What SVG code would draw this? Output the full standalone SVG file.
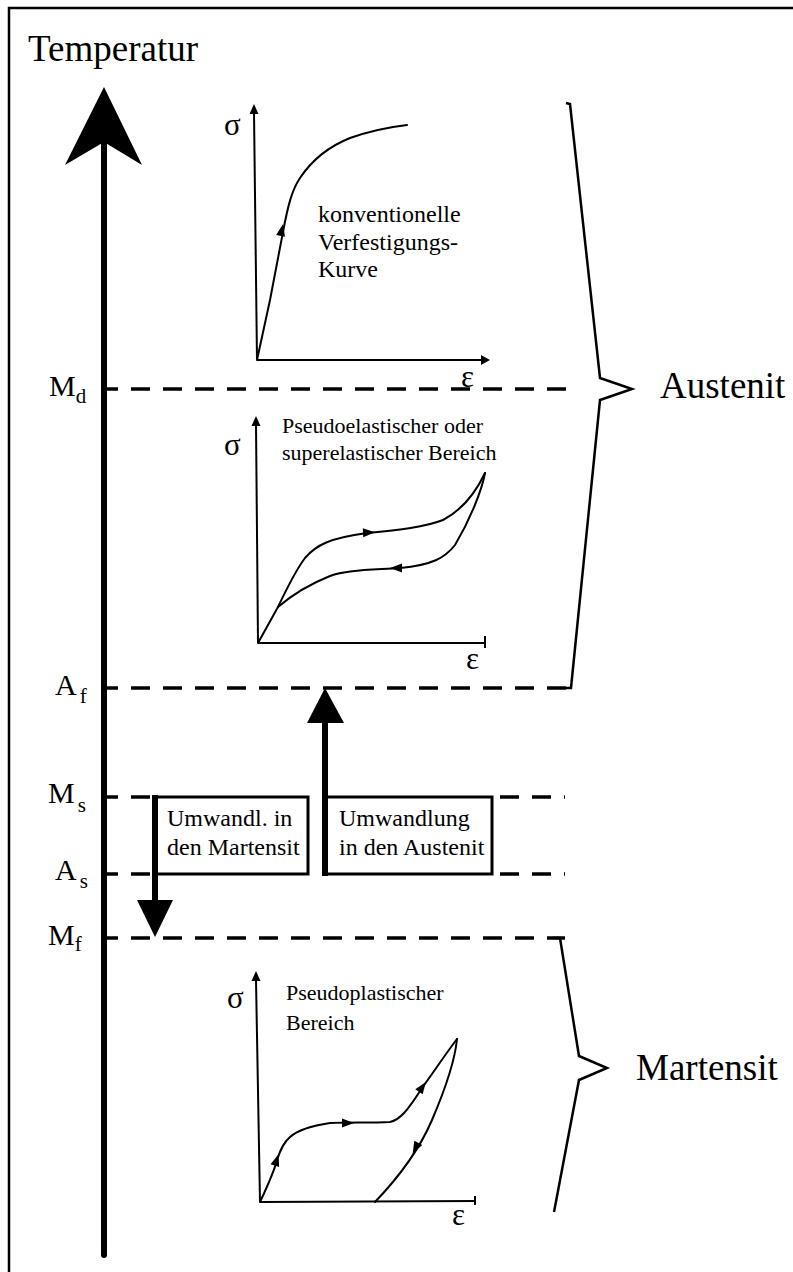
<svg xmlns="http://www.w3.org/2000/svg" xmlns:xlink="http://www.w3.org/1999/xlink" width="793" height="1272" viewBox="0 0 793 1272">
  <style>
    text { font-family: "Liberation Serif", "Times New Roman", serif; fill: #000; }
    .big { font-size: 37px; }
    .lbl { font-size: 30px; }
    .sub { font-size: 21px; }
    .note { font-size: 22px; }
    .note-l { font-size: 24px; }
    .sym { font-size: 31px; }
    .dash { stroke: #000; stroke-width: 3.5; stroke-dasharray: 19 13; fill: none; }
    .axis { stroke: #000; stroke-width: 2; fill: none; }
    .curve { stroke: #000; stroke-width: 2; fill: none; stroke-linejoin: round; stroke-linecap: round; }
    .brace { stroke: #000; stroke-width: 2.5; fill: none; stroke-linejoin: miter; }
    .box { stroke: #000; stroke-width: 3; fill: #fff; }
    .shaft { stroke: #000; fill: none; }
  </style>
  <defs>
    <path id="ah" d="M5,0 L-7,-4.5 L-7,4.5 Z" fill="#000"/>
  </defs>

  <!-- frame -->
  <rect x="9" y="8" width="820" height="1300" fill="#fff" stroke="#000" stroke-width="2.5"/>

  <!-- temperature axis -->
  <g id="temperature-axis">
    <text class="big" x="28" y="61">Temperatur</text>
    <line class="shaft" x1="104" y1="140" x2="104" y2="1255" stroke-width="6" stroke-linecap="round"/>
    <path d="M104,87 L142,165 L104,142 L65,165 Z" fill="#000"/>
  </g>

  <!-- level lines and labels -->
  <g id="levels">
    <line class="dash" x1="107" y1="389" x2="570" y2="389" stroke-dashoffset="8"/>
    <text class="lbl" x="49" y="396">M<tspan class="sub" dy="7">d</tspan></text>

    <line class="dash" x1="107" y1="688" x2="570" y2="688" stroke-dashoffset="8"/>
    <text class="lbl" x="55" y="695">A<tspan class="sub" dx="3" dy="8">f</tspan></text>

    <line class="dash" x1="107" y1="797" x2="155" y2="797" stroke-dashoffset="8"/>
    <line class="dash" x1="500" y1="797" x2="565" y2="797"/>
    <text class="lbl" x="48" y="803">M<tspan class="sub" dx="3" dy="9">s</tspan></text>

    <line class="dash" x1="107" y1="874" x2="155" y2="874" stroke-dashoffset="8"/>
    <line class="dash" x1="500" y1="874" x2="565" y2="874"/>
    <text class="lbl" x="55" y="880">A<tspan class="sub" dx="3" dy="8">s</tspan></text>

    <line class="dash" x1="107" y1="938" x2="565" y2="938" stroke-dashoffset="8"/>
    <text class="lbl" x="48" y="945">M<tspan class="sub" dy="6">f</tspan></text>
  </g>

  <!-- transformation boxes -->
  <g id="to-martensite">
    <rect class="box" x="155" y="797" width="153" height="77"/>
    <text class="note-l" x="167" y="826">Umwandl. in</text>
    <text class="note-l" x="167" y="855">den Martensit</text>
  </g>
  <g id="to-austenite">
    <rect class="box" x="325" y="797" width="167" height="77"/>
    <text class="note-l" x="339" y="826">Umwandlung</text>
    <text class="note-l" x="339" y="855">in den Austenit</text>
  </g>

  <!-- transformation arrows -->
  <g id="connectors">
    <line class="shaft" x1="155" y1="795" x2="155" y2="902" stroke-width="6"/>
    <path d="M137,900 L173,900 L155,937 Z" fill="#000"/>
    <line class="shaft" x1="325" y1="876" x2="325" y2="720" stroke-width="6"/>
    <path d="M307,723 L344,723 L325,688 Z" fill="#000"/>
  </g>

  <!-- conventional hardening curve -->
  <g id="graph-conventional">
    <line class="axis" x1="257" y1="360" x2="254" y2="112"/>
    <path d="M254,104 L249.5,114 L258.5,114 Z" fill="#000"/>
    <line class="axis" x1="257" y1="360" x2="484" y2="360"/>
    <path d="M490,360 L481,355 L481,365 Z" fill="#000"/>
    <text class="sym" x="224" y="135">σ</text>
    <text class="sym" x="461" y="387">ε</text>
    <path class="curve" d="M257,360 L270,300 L283,232 C288,205 292,190 300,178 C312,160 330,146 350,138 C370,131 390,127 407,125"/>
    <use xlink:href="#ah" transform="translate(282,229) rotate(-78)"/>
    <text class="note-l" x="318" y="222">konventionelle</text>
    <text class="note-l" x="318" y="250">Verfestigungs-</text>
    <text class="note-l" x="318" y="277">Kurve</text>
  </g>

  <!-- pseudoelastic curve -->
  <g id="graph-pseudoelastic">
    <line class="axis" x1="258" y1="643" x2="256" y2="424"/>
    <path d="M256,416 L251.5,426 L260.5,426 Z" fill="#000"/>
    <line class="axis" x1="258" y1="643" x2="485" y2="643"/>
    <line class="axis" x1="485" y1="636" x2="485" y2="648"/>
    <text class="sym" x="224" y="455">σ</text>
    <text class="sym" x="466" y="669">ε</text>
    <text class="note" x="282" y="433">Pseudoelastischer oder</text>
    <text class="note" x="282" y="460">superelastischer Bereich</text>
    <path class="curve" d="M258,643 L278,607 C287,588 296,570 305,558 C316,545 330,538 367,533 C400,530 425,527 443,520 C462,510 476,492 485,473"/>
    <path class="curve" d="M485,473 C482,490 470,520 455,545 C445,558 432,565 400,568 C370,570 345,570 330,576 C310,584 292,595 278,607"/>
    <use xlink:href="#ah" transform="translate(370,532.5) rotate(-3)"/>
    <use xlink:href="#ah" transform="translate(395,568) rotate(180)"/>
  </g>

  <!-- pseudoplastic curve -->
  <g id="graph-pseudoplastic">
    <line class="axis" x1="260" y1="1202" x2="256" y2="980"/>
    <path d="M256,971 L251.5,981 L260.5,981 Z" fill="#000"/>
    <line class="axis" x1="260" y1="1202" x2="475" y2="1201"/>
    <line class="axis" x1="475" y1="1196" x2="475" y2="1205"/>
    <text class="sym" x="227" y="1008">σ</text>
    <text class="sym" x="452" y="1225">ε</text>
    <text class="note" x="286" y="1000">Pseudoplastischer</text>
    <text class="note" x="286" y="1030">Bereich</text>
    <path class="curve" d="M260,1202 C268,1185 274,1172 277,1160 C281,1148 284,1142 290,1137 C298,1130 310,1126 330,1123 C350,1122 370,1123 390,1122 C400,1120 408,1110 422,1088 C435,1070 447,1052 457,1039"/>
    <path class="curve" d="M457,1039 C455,1060 447,1085 432,1120 C420,1148 398,1178 375,1202"/>
    <use xlink:href="#ah" transform="translate(277,1159) rotate(-72)"/>
    <use xlink:href="#ah" transform="translate(349,1123) rotate(0)"/>
    <use xlink:href="#ah" transform="translate(423,1086) rotate(-55)"/>
    <use xlink:href="#ah" transform="translate(415,1149) rotate(118)"/>
  </g>

  <!-- phase braces -->
  <g id="austenite">
    <path class="brace" d="M566,103 L570,104 L600,378 L632,389 L600,400 L571,688 L566,688"/>
    <text class="big" x="660" y="398">Austenit</text>
  </g>
  <g id="martensite">
    <path class="brace" d="M553,938 L560,938 L579,1056 L607,1068 L579,1080 L554,1212"/>
    <text class="big" x="636" y="1080">Martensit</text>
  </g>
</svg>
